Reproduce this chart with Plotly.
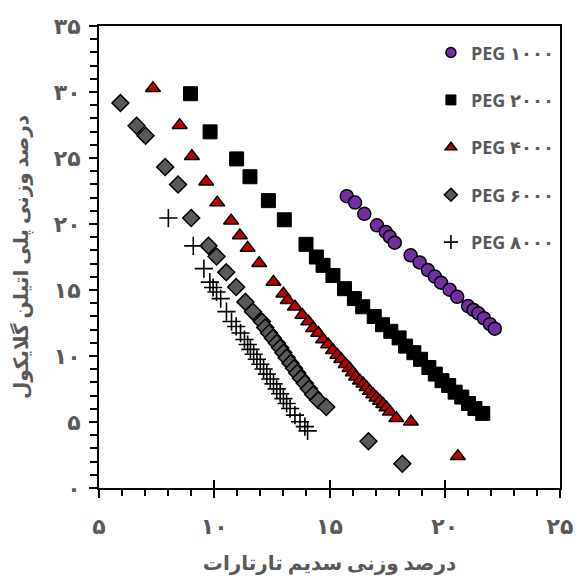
import plotly.graph_objects as go

# ---- data ----
peg1000_x = [15.75, 16.11, 16.51, 17.06, 17.44, 17.62, 17.83, 18.52, 18.91, 19.27,
             19.57, 19.84, 20.21, 20.54, 21.01, 21.25, 21.46, 21.70, 21.96, 22.17]
peg1000_y = [22.11, 21.62, 20.77, 19.90, 19.40, 19.03, 18.58, 17.63, 17.09, 16.51,
             16.02, 15.55, 15.02, 14.48, 13.78, 13.49, 13.23, 12.86, 12.41, 12.07]

peg2000_x = [8.97, 9.82, 10.97, 11.55, 12.35, 13.04, 13.98, 14.43, 14.72, 15.15,
             15.65, 16.08, 16.44, 16.94, 17.30, 17.66, 18.02, 18.30, 18.66, 18.95,
             19.31, 19.59, 19.88, 20.17, 20.45, 20.74, 21.03, 21.31, 21.65]
peg2000_y = [29.87, 26.98, 24.93, 23.58, 21.77, 20.32, 18.46, 17.50, 16.87, 16.10,
             15.10, 14.35, 13.73, 12.99, 12.37, 11.87, 11.37, 10.75, 10.25, 9.75,
             9.13, 8.63, 8.13, 7.76, 7.26, 6.89, 6.40, 6.02, 5.65]

peg4000_x = [7.34, 8.50, 9.03, 9.65, 10.13, 10.73, 11.11, 11.45, 11.95, 12.57,
             13.00, 13.19, 13.50, 13.82, 14.08, 14.29, 14.51, 14.72, 14.94, 15.15,
             15.34, 15.51, 15.70, 15.87, 16.01, 16.15, 16.32, 16.47, 16.61, 16.75,
             16.90, 17.04, 17.19, 17.33, 17.47, 17.62, 17.90, 18.53, 20.57]
peg4000_y = [30.28, 27.49, 25.13, 23.21, 21.62, 20.25, 19.13, 18.19, 17.03, 15.60,
             14.72, 14.23, 13.73, 13.11, 12.61, 12.11, 11.74, 11.25, 10.87, 10.43,
             10.07, 9.75, 9.38, 9.08, 8.75, 8.43, 8.13, 7.89, 7.63, 7.34,
             7.09, 6.84, 6.59, 6.34, 6.10, 5.77, 5.28, 5.02, 2.41]

peg6000_x = [5.93, 6.63, 7.02, 7.87, 8.43, 9.00, 9.75, 10.10, 10.52, 10.95,
             11.35, 11.68, 12.07, 12.21, 12.38, 12.54, 12.71, 12.86, 13.00, 13.14,
             13.31, 13.46, 13.60, 13.76, 13.93, 14.11, 14.29, 14.51, 14.86, 16.69, 18.16]
peg6000_y = [29.16, 27.44, 26.69, 24.31, 22.99, 20.45, 18.36, 17.54, 16.34, 15.22,
             14.10, 13.36, 12.61, 12.16, 11.74, 11.37, 10.99, 10.62, 10.25, 9.87,
             9.46, 9.08, 8.71, 8.31, 7.93, 7.51, 7.09, 6.64, 6.14, 3.54, 1.84]

peg8000_x = [8.01, 9.09, 9.55, 9.81, 9.95, 10.10, 10.28, 10.53, 10.75, 10.95,
             11.14, 11.31, 11.45, 11.57, 11.71, 11.85, 12.00, 12.14, 12.28, 12.43,
             12.57, 12.71, 12.86, 13.00, 13.14, 13.29, 13.50, 13.72, 13.93, 14.05]
peg8000_y = [20.45, 18.34, 16.62, 15.60, 15.19, 14.85, 14.35, 13.36, 12.61, 12.24,
             11.74, 11.25, 10.87, 10.50, 10.13, 9.75, 9.38, 9.01, 8.63, 8.26,
             7.89, 7.51, 7.14, 6.77, 6.40, 6.02, 5.52, 5.02, 4.65, 4.33]

series_names = ["PEG ۱۰۰۰", "PEG ۲۰۰۰", "PEG ۴۰۰۰", "PEG ۶۰۰۰", "PEG ۸۰۰۰"]

x_tickvals = [5, 10, 15, 20, 25]
x_ticktext = ["۵", "۱۰", "۱۵", "۲۰", "۲۵"]
y_tickvals = [0, 5, 10, 15, 20, 25, 30, 35]
y_ticktext = ["۰", "۵", "۱۰", "۱۵", "۲۰", "۲۵", "۳۰", "۳۵"]

x_title = "درصد وزنی سدیم تارتارات"
y_title = "درصد وزنی پلی اتیلن گلایکول"

GRAY = "#595959"
FONT = "Lato, DejaVu Sans, sans-serif"
LEGFONT = "Open Sans, DejaVu Sans, sans-serif"

fig = go.Figure()

styles = [
    dict(symbol="circle", size=13, color="#7030A0", line=dict(color="black", width=1.5)),
    dict(symbol="square", size=14, color="black", line=dict(color="black", width=1)),
    dict(symbol="triangle-up", size=13, color="#C00000", line=dict(color="black", width=1.5)),
    dict(symbol="diamond", size=13, color="#595959", line=dict(color="black", width=1.5)),
    dict(symbol="cross-thin", size=13, color="black", line=dict(color="black", width=1.6)),
]
legend_sizes = [10, 10, 10, 10, 10]
data = [(peg1000_x, peg1000_y), (peg2000_x, peg2000_y), (peg4000_x, peg4000_y),
        (peg6000_x, peg6000_y), (peg8000_x, peg8000_y)]

for i, ((xs, ys), name, st) in enumerate(zip(data, series_names, styles)):
    fig.add_trace(go.Scatter(x=xs, y=ys, mode="markers", name=name,
                             legendgroup=f"g{i}", showlegend=False, marker=st))
    lst = dict(st)
    lst["size"] = legend_sizes[i]
    fig.add_trace(go.Scatter(x=[None], y=[None], mode="markers", name=name,
                             legendgroup=f"g{i}", showlegend=True, marker=lst))

# invisible trace on overlay axis to hold cross ticks
fig.add_trace(go.Scatter(x=[5], y=[0], xaxis="x2", mode="markers",
                         marker=dict(opacity=0), showlegend=False, hoverinfo="skip"))

fig.update_layout(
    width=585, height=583,
    margin=dict(l=99, r=21, t=20, b=94),
    paper_bgcolor="white", plot_bgcolor="white",
    font=dict(family=FONT, color=GRAY),
    showlegend=True,
    legend=dict(x=0.72, xanchor="left", y=0.982, yanchor="top",
                font=dict(family=LEGFONT, size=18, color=GRAY, weight="bold"),
                tracegroupgap=21, bgcolor="rgba(0,0,0,0)", itemwidth=30),
    xaxis=dict(range=[5, 25], tickvals=x_tickvals, ticktext=x_ticktext,
               showline=True, linecolor="black", linewidth=2, mirror=True,
               ticks="outside", ticklen=8, tickwidth=2, tickcolor="black",
               minor=dict(dtick=1, tick0=5, ticks="outside", ticklen=6, tickwidth=1.5, tickcolor="black"),
               showgrid=False, zeroline=False,
               tickfont=dict(family=FONT, size=22, color=GRAY, weight="bold"),
               ticklabelstandoff=10,
               title=dict(text=x_title, font=dict(family=FONT, size=20, color=GRAY, weight="bold"),
                          standoff=18)),
    xaxis2=dict(range=[5, 25], overlaying="x", side="bottom", tickvals=x_tickvals,
                showticklabels=False, ticks="inside", ticklen=8, tickwidth=2,
                tickcolor="black", showgrid=False, zeroline=False, showline=False),
    yaxis=dict(range=[0, 35], tickvals=y_tickvals, ticktext=y_ticktext,
               showline=True, linecolor="black", linewidth=2, mirror=True,
               ticks="outside", ticklen=8, tickwidth=2, tickcolor="black",
               minor=dict(dtick=1, tick0=0, ticks="outside", ticklen=7, tickwidth=1.5, tickcolor="black"),
               showgrid=False, zeroline=False,
               tickfont=dict(family=FONT, size=22, color=GRAY, weight="bold"),
               ticklabelstandoff=4,
               title=dict(text=y_title, font=dict(family=FONT, size=20, color=GRAY, weight="bold"),
                          standoff=20)),
)

fig.write_html("out.html")
